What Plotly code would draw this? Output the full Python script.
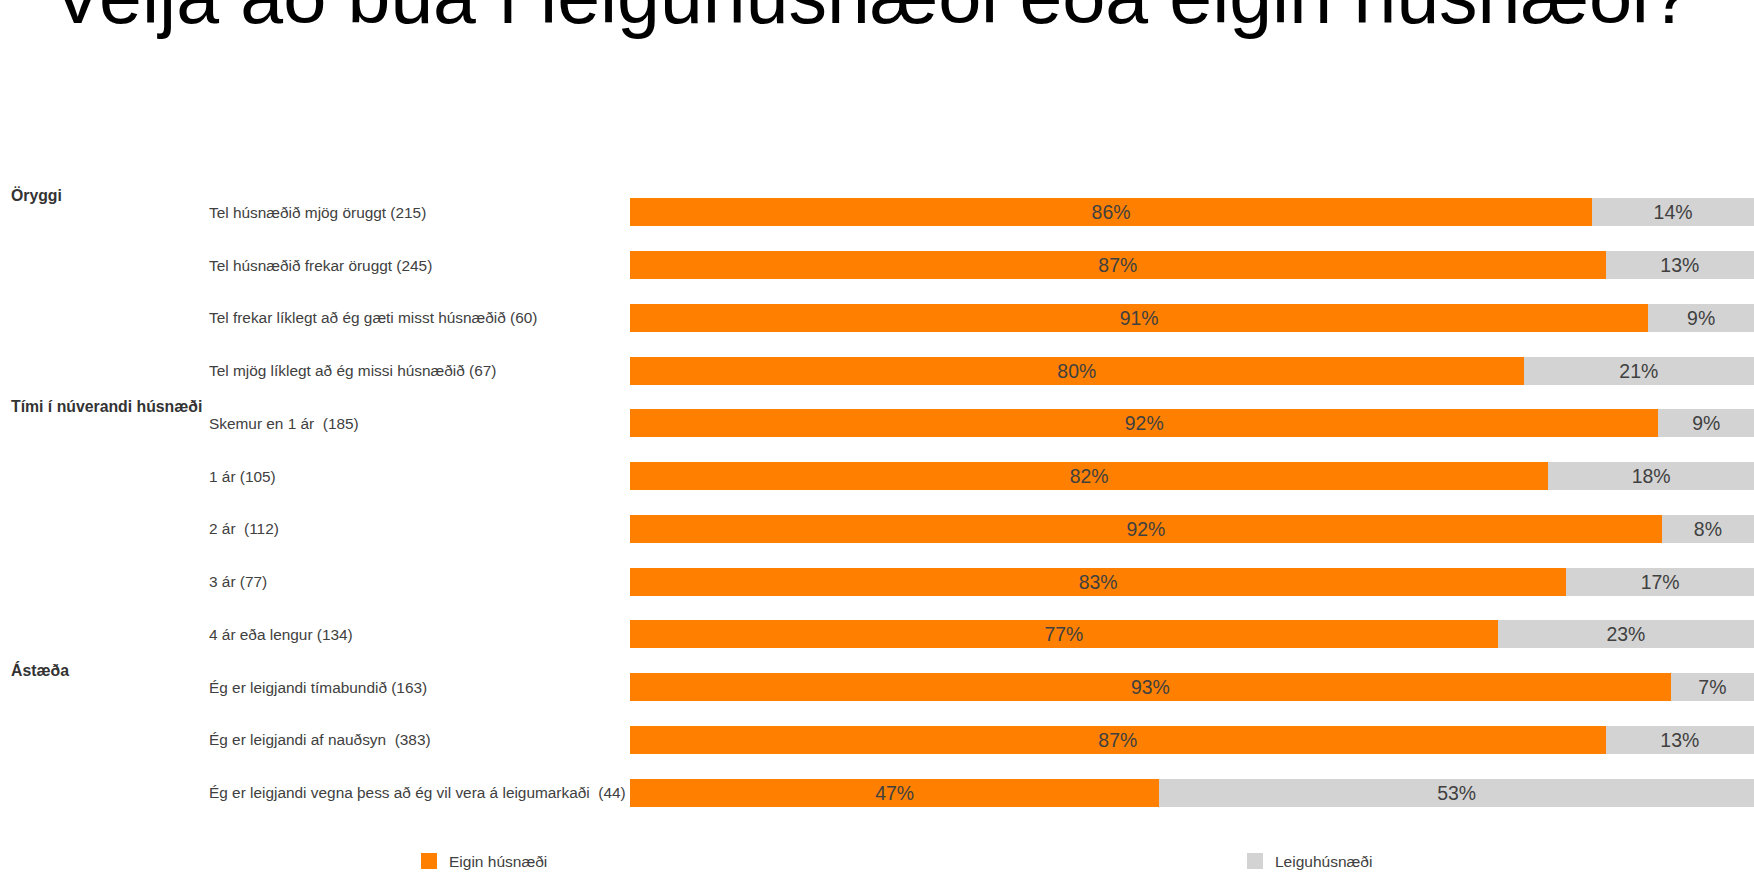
import plotly.graph_objects as go

# ------------------------------------------------------------------
# data
# ------------------------------------------------------------------
TITLE = 'Velja að búa í leiguhúsnæði eða eigin húsnæði?'

categories = [
    'Tel húsnæðið mjög öruggt (215)',
    'Tel húsnæðið frekar öruggt (245)',
    'Tel frekar líklegt að ég gæti misst húsnæðið (60)',
    'Tel mjög líklegt að ég missi húsnæðið (67)',
    'Skemur en 1 ár  (185)',
    '1 ár (105)',
    '2 ár  (112)',
    '3 ár (77)',
    '4 ár eða lengur (134)',
    'Ég er leigjandi tímabundið (163)',
    'Ég er leigjandi af nauðsyn  (383)',
    'Ég er leigjandi vegna þess að ég vil vera á leigumarkaði  (44)',
]

# group heading -> index of first row in the group
groups = [
    ('Öryggi', 0),
    ('Tími í núverandi húsnæði', 4),
    ('Ástæða', 9),
]

eigin = [85.6, 86.8, 90.6, 79.5, 91.5, 81.7, 91.8, 83.3, 77.2, 92.6, 86.8, 47.1]
leigu = [14.4, 13.2, 9.4, 20.5, 8.5, 18.3, 8.2, 16.7, 22.8, 7.4, 13.2, 52.9]

series = [
    ('Eigin húsnæði', eigin, '#FF8000', 'legend'),
    ('Leiguhúsnæði', leigu, '#D3D3D3', 'legend2'),
]

FONT = 'Liberation Sans, Arial, sans-serif'
TEXT_GREY = '#404040'

W, H = 1754, 872

# ------------------------------------------------------------------
# figure
# ------------------------------------------------------------------
fig = go.Figure()
for name, vals, color, leg in series:
    fig.add_trace(go.Bar(
        y=categories,
        x=vals,
        name=name,
        orientation='h',
        marker=dict(color=color, line=dict(width=0)),
        texttemplate='%{x:.0f}%',
        textposition='inside',
        insidetextanchor='middle',
        textangle=0,
        textfont=dict(family=FONT, size=19.5, color=TEXT_GREY),
        hovertemplate='%{y}<br>' + name + ': %{x:.1f}%<extra></extra>',
        showlegend=False,
    ))
    # legend-only entry with a bigger square swatch
    fig.add_trace(go.Scatter(
        x=[None], y=[None],
        mode='markers',
        name=name,
        marker=dict(symbol='square', size=16, color=color),
        legend=leg,
        showlegend=True,
        hoverinfo='skip',
    ))

annotations = []
# row labels, left aligned
for cat in categories:
    annotations.append(dict(
        xref='paper', yref='y', x=-0.3763, y=cat,
        text=cat, showarrow=False, xanchor='left', yanchor='middle',
        font=dict(family=FONT, size=15.4, color=TEXT_GREY),
    ))

# group headings
for label, idx in groups:
    annotations.append(dict(
        xref='paper', yref='y', x=-0.5525, y=categories[idx],
        text=f'<b>{label}</b>', showarrow=False, xanchor='left', yanchor='middle',
        yshift=17,
        font=dict(family=FONT, size=15.8, color='#333333'),
    ))

# big title, partly cut off at the top
annotations.append(dict(
    xref='paper', yref='paper', x=0.2155, y=1.300,
    text=TITLE, showarrow=False, xanchor='center', yanchor='middle',
    font=dict(family=FONT, size=77, color='#000000'),
))

legend_style = dict(
    orientation='h',
    xref='container', yref='container',
    xanchor='left', yanchor='middle',
    y=0.012,
    font=dict(family=FONT, size=15.5, color=TEXT_GREY),
    bgcolor='rgba(0,0,0,0)',
)

fig.update_layout(
    width=W, height=H,
    barmode='stack',
    bargap=0.47,
    plot_bgcolor='white',
    paper_bgcolor='white',
    font=dict(family=FONT, size=14, color=TEXT_GREY),
    margin=dict(l=630, r=0, t=186, b=52.6),
    annotations=annotations,
    legend=dict(x=409 / W, **legend_style),
    legend2=dict(x=1235 / W, **legend_style),
)
fig.update_xaxes(range=[0, 100], visible=False, fixedrange=True)
fig.update_yaxes(autorange='reversed', showticklabels=False, showgrid=False,
                 zeroline=False, fixedrange=True)

# drop the default body margin so the figure fills the window exactly
fig.write_html('out.html', config={'displayModeBar': False},
               post_script="document.body.style.margin='0';")
